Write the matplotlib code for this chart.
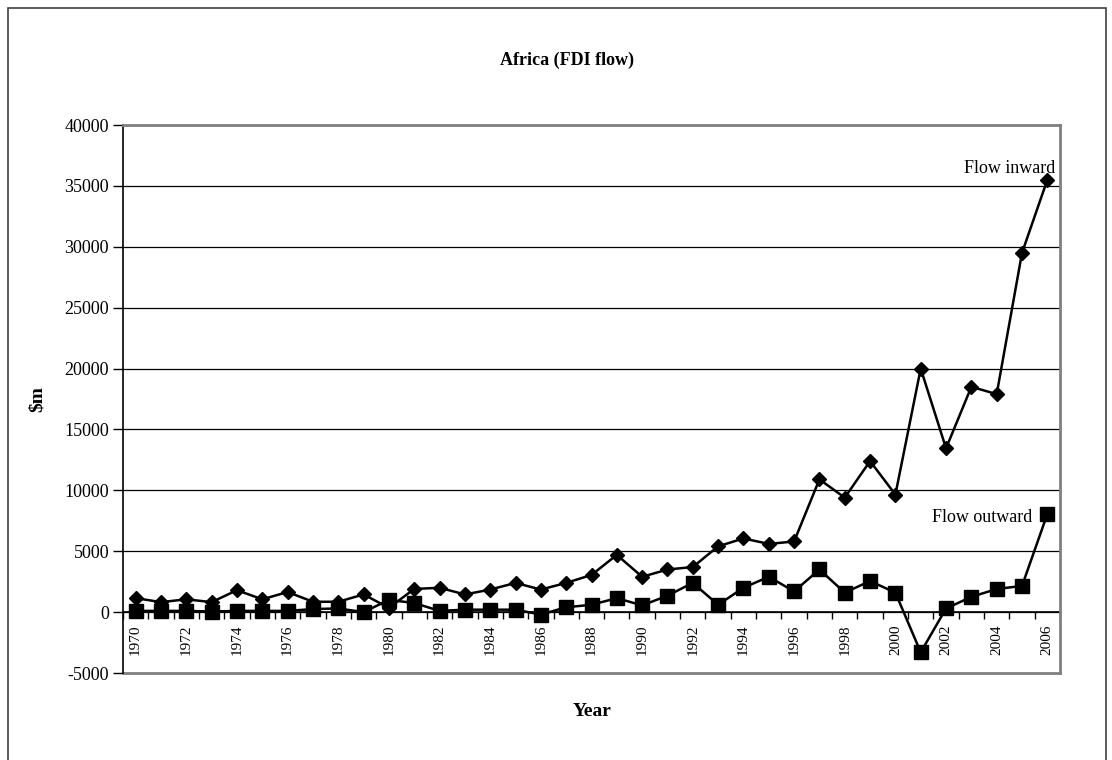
import matplotlib
matplotlib.use("Agg")
import matplotlib.pyplot as plt
from matplotlib.patches import Rectangle
from matplotlib.ticker import FixedLocator, NullFormatter

plt.rcParams['font.family'] = ['Liberation Serif', 'DejaVu Serif']

years = list(range(1970, 2007))
flow_inward = [1150, 820, 1050, 820, 1800, 1050, 1650, 850, 850, 1450,
               350, 1900, 2000, 1450, 1850, 2400, 1850, 2400, 3050, 4700,
               2900, 3500, 3700, 5400, 6050, 5600, 5800, 10900, 9400, 12400,
               9650, 20000, 13450, 18500, 17900, 29500, 35500]
flow_outward = [100, 100, 100, 50, 100, 100, 100, 250, 300, 0,
                1000, 750, 100, 200, 200, 200, -200, 400, 600, 1150,
                550, 1350, 2400, 600, 2000, 2900, 1700, 3500, 1600, 2550,
                1600, -3300, 300, 1250, 1900, 2150, 8050]
y_ticks = list(range(-5000, 40001, 5000))
x_labels = [str(y) for y in years[::2]]

fig = plt.figure(figsize=(11.12, 7.6), dpi=100)
ax = fig.add_axes([123 / 1112, 1 - 673 / 760, (1060 - 123) / 1112, (673 - 125) / 760])

x = list(range(len(years)))

# horizontal gridlines
for v in y_ticks[1:]:
    ax.axhline(v, color='black', lw=0.9, zorder=1)

ax.plot(x, flow_inward, color='black', lw=1.8, marker='D', markersize=7,
        zorder=3, clip_on=False)
ax.plot(x, flow_outward, color='black', lw=1.8, marker='s', markersize=10,
        zorder=3, clip_on=False)

ax.set_xlim(-0.5, len(years) - 0.5)
ax.set_ylim(-5000, 40000)

# y axis
ax.set_yticks(y_ticks)
ax.set_yticklabels([str(v) for v in y_ticks], fontsize=13)
ax.tick_params(axis='y', direction='out', length=7, width=1, pad=3)

# category axis crossing at zero
ax.spines['bottom'].set_position(('data', 0))
ax.spines['bottom'].set_linewidth(1.2)
ax.spines['bottom'].set_zorder(2)
ax.set_xticks(x[::2])
ax.set_xticklabels(x_labels, rotation=90, fontsize=11, va='top')
ax.tick_params(axis='x', which='major', length=0, pad=9)
ax.xaxis.set_minor_locator(FixedLocator([i - 0.5 for i in range(len(years) + 1)]))
ax.xaxis.set_minor_formatter(NullFormatter())
ax.tick_params(axis='x', which='minor', direction='out', length=5, width=1)

ax.spines['left'].set_linewidth(1.2)
for side in ('top', 'right'):
    ax.spines[side].set_color('#808080')
    ax.spines[side].set_linewidth(2)
# plot area bottom edge
ax.axhline(-5000, color='#808080', lw=2, zorder=1, clip_on=False)

ax.text(36.3, 36400, 'Flow inward', ha='right', va='center', fontsize=13)
ax.text(35.4, 7800, 'Flow outward', ha='right', va='center', fontsize=13)

fig.text(567 / 1112, 1 - 60 / 760, 'Africa (FDI flow)', ha='center', va='center',
         fontsize=13, fontweight='bold')
fig.text(37 / 1112, 1 - 399 / 760, '$m', ha='center', va='center', rotation=90,
         fontsize=14, fontweight='bold')
fig.text(592 / 1112, 1 - 712 / 760, 'Year', ha='center', va='center',
         fontsize=14, fontweight='bold')

# chart border
fig.patches.append(Rectangle((8 / 1112, -0.01), (1106 - 8) / 1112, 1 - 8 / 760 + 0.01,
                             transform=fig.transFigure, fill=False,
                             edgecolor='#404040', lw=1.2))

fig.savefig('out.png', dpi=100)
